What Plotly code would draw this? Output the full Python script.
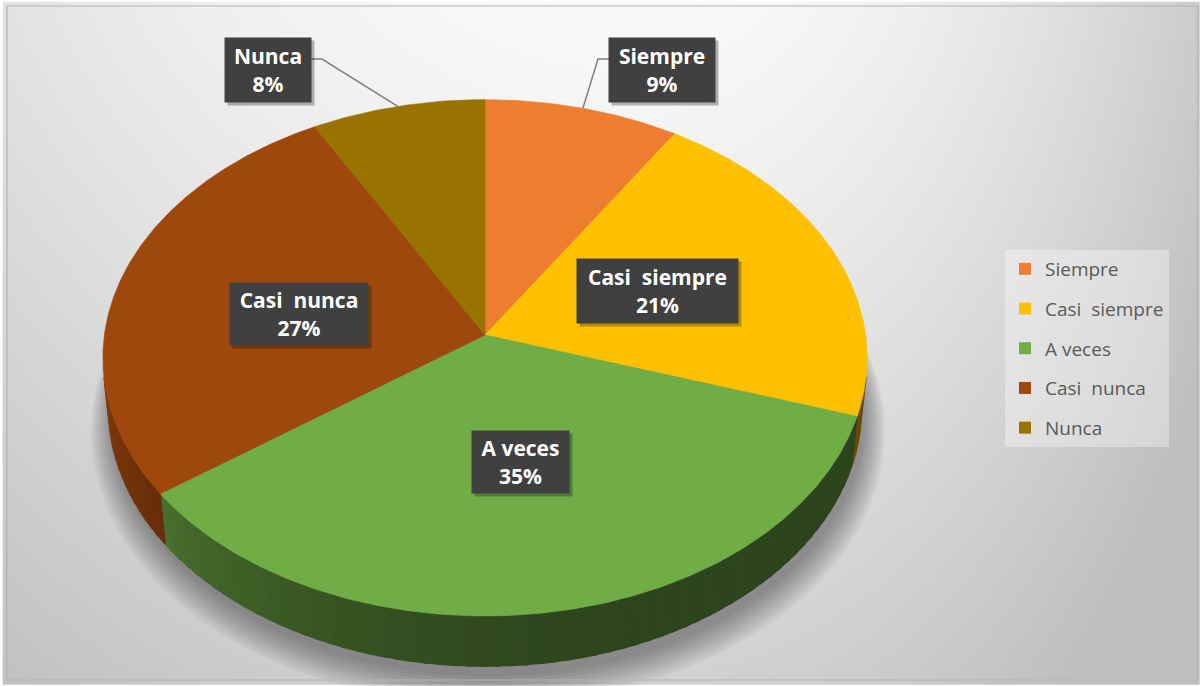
import numpy as np
import plotly.graph_objects as go

# ---- data -------------------------------------------------------------
categorias = ["Siempre", "Casi  siempre", "A veces", "Casi  nunca", "Nunca"]
porcentajes = [9, 21, 35, 27, 8]
colores = ["#ED7D31", "#FFC000", "#70AD47", "#9E480E", "#997300"]

# label boxes: centre (px), width, height
etiquetas_pos = [(662, 70), (657, 291), (520, 462), (299, 314), (268, 70)]
etiquetas_tam = [(106, 64), (161, 64), (97, 62), (138, 62), (86, 64)]

# ---- page / camera geometry -------------------------------------------
W, H = 1200, 686
CX, CY = 485, 335          # projected centre of the pie top
S_EL, C_EL = 0.673, 0.739  # sin / cos of the viewing elevation
DIST = 8.36                # camera distance (in pie radii)
FOC = 3182                 # focal length in px
GROSOR = 0.18              # pie thickness (in pie radii)


def proyectar(theta_deg, altura=0.0):
    """Project a rim point (angle clockwise from 12 o'clock) to page px."""
    t = np.radians(theta_deg)
    u = np.sin(t)
    v = -np.cos(t)
    prof = DIST - (altura * S_EL + v * C_EL)
    x = CX + FOC * u / prof
    y = CY + FOC * (v * S_EL - altura * C_EL) / prof
    return x, y


def oscurecer(hexcol, f):
    h = hexcol.lstrip("#")
    r, g, b = (int(h[i:i + 2], 16) for i in (0, 2, 4))
    return "rgb({},{},{})".format(int(r * f), int(g * f), int(b * f))


fig = go.Figure()

# ---- background: soft radial grey gradient ------------------------------
xs = np.linspace(7, 1198, 140)
ys = np.linspace(6, 680, 80)
X, Y = np.meshgrid(xs, ys)
hx = np.where(X < 640, (X - 640) / 900, (X - 640) / 560)
hy = (Y - 6) / 674
L = 249 - 46 * hx ** 2 - 40 * hy ** 1.2 * (1 - 0.35 * hx ** 2)
L = np.clip(L, 190, 250)
fig.add_trace(go.Heatmap(
    x=xs, y=ys, z=L, zmin=190, zmax=250, zsmooth="best",
    colorscale=[[0, "rgb(190,190,190)"], [1, "rgb(250,250,250)"]],
    showscale=False, hoverinfo="skip"))

# ---- angles of every slice ----------------------------------------------
limites = np.concatenate([[0], np.cumsum(porcentajes)]) / sum(porcentajes) * 360.0

# ---- soft shadow under the pie ------------------------------------------
ang_full = np.linspace(0, 360, 241)
bx, by = proyectar(ang_full, -GROSOR)
bx = np.asarray(bx); by = np.asarray(by)
mx, my = bx.mean(), by.mean()
for k in range(10):
    esc = 1.0 + 0.006 * k
    fig.add_trace(go.Scatter(
        x=mx + (bx - mx) * esc + 3, y=my + (by - my) * esc + 10 + 1.5 * k,
        fill="toself", mode="none", fillcolor="rgba(0,0,0,0.04)",
        hoverinfo="skip", showlegend=False))

# ---- side walls (only the part facing the camera) -------------------------
lim_vis = np.degrees(np.arccos(-1.0 / (DIST * C_EL)))
vis_lo, vis_hi = lim_vis, 360 - lim_vis


def factor_luz(theta):
    return 0.40 + 0.5 * max(0.0, (theta - 150) / 120) ** 2


for i, col in enumerate(colores):
    a0 = max(limites[i], vis_lo)
    a1 = min(limites[i + 1], vis_hi)
    if a1 <= a0:
        continue
    n = max(1, int(np.ceil((a1 - a0) / 2.0)))
    bordes = np.linspace(a0, a1, n + 1)
    for j, (t0, t1) in enumerate(zip(bordes[:-1], bordes[1:])):
        t1e = min(t1 + 0.6, a1) if j < n - 1 else t1
        tt = np.linspace(t0, t1e, 6)
        xt, yt = proyectar(tt, 0.0)
        xb, yb = proyectar(tt[::-1], -GROSOR)
        c = oscurecer(col, factor_luz((t0 + t1) / 2))
        fig.add_trace(go.Scatter(
            x=np.concatenate([xt, xb, xt[:1]]), y=np.concatenate([yt, yb, yt[:1]]),
            fill="toself", mode="lines", line=dict(color=c, width=1.2),
            fillcolor=c, hoverinfo="skip", showlegend=False))

# ---- top faces ----------------------------------------------------------------
for i, col in enumerate(colores):
    tt = np.linspace(limites[i], limites[i + 1], max(8, int((limites[i + 1] - limites[i]) * 2)))
    xa, ya = proyectar(tt, 0.0)
    fig.add_trace(go.Scatter(
        x=np.concatenate([[CX], xa, [CX]]), y=np.concatenate([[CY], ya, [CY]]),
        fill="toself", mode="lines", line=dict(color=col, width=0.6),
        fillcolor=col, name=categorias[i], hoverinfo="skip", showlegend=False))

# ---- leader lines for the labels placed outside the pie -----------------------
for i, lado in ((0, -1), (4, 1)):
    mid = (limites[i] + limites[i + 1]) / 2
    ex, ey = proyectar(mid, 0.0)
    (lx, ly), (lw, lh) = etiquetas_pos[i], etiquetas_tam[i]
    x_borde = lx + lado * lw / 2
    y_linea = ly - 11
    fig.add_trace(go.Scatter(
        x=[x_borde, x_borde + lado * 11, ex], y=[y_linea, y_linea, ey],
        mode="lines", line=dict(color="#7f7f7f", width=1.5),
        hoverinfo="skip", showlegend=False))

# ---- data labels ------------------------------------------------------------
for i, cat in enumerate(categorias):
    (lx, ly), (lw, lh) = etiquetas_pos[i], etiquetas_tam[i]
    # drop shadow
    fig.add_annotation(x=lx, y=ly, xref="x", yref="y", text=" ", showarrow=False,
                       width=lw, height=lh, bgcolor="rgba(0,0,0,0.28)",
                       xshift=3, yshift=-3, borderpad=0)
    fig.add_annotation(
        x=lx, y=ly, xref="x", yref="y", showarrow=False,
        text="<b>{}</b><br><b>{}%</b>".format(cat, porcentajes[i]),
        width=lw, height=lh, bgcolor="#404040", borderpad=0, align="center",
        valign="middle",
        font=dict(family="Open Sans", size=21, color="white"))

# ---- legend entries -----------------------------------------------------------
for cat, col in zip(categorias, colores):
    fig.add_trace(go.Scatter(
        x=[None], y=[None], mode="markers", name=cat, legendgroup=cat,
        marker=dict(symbol="square", size=12, color=col)))

# ---- frame ------------------------------------------------------------------
fig.add_shape(type="rect", x0=7, y0=6, x1=1198, y1=680, xref="x", yref="y",
              line=dict(color="#b4b4b4", width=1.2), fillcolor="rgba(0,0,0,0)")

fig.update_layout(
    width=W, height=H, margin=dict(l=0, r=0, t=0, b=0),
    paper_bgcolor="white", plot_bgcolor="white",
    xaxis=dict(range=[0, W], visible=False, fixedrange=True),
    yaxis=dict(range=[H, 0], visible=False, fixedrange=True),
    showlegend=True,
    legend=dict(x=1005 / W, y=1 - 250 / H, xanchor="left", yanchor="top",
                bgcolor="rgba(255,255,255,0.35)", borderwidth=0,
                tracegroupgap=12, itemwidth=30, entrywidth=172,
                font=dict(family="Open Sans", size=19, color="#595959")),
)

fig.write_html("out.html")
